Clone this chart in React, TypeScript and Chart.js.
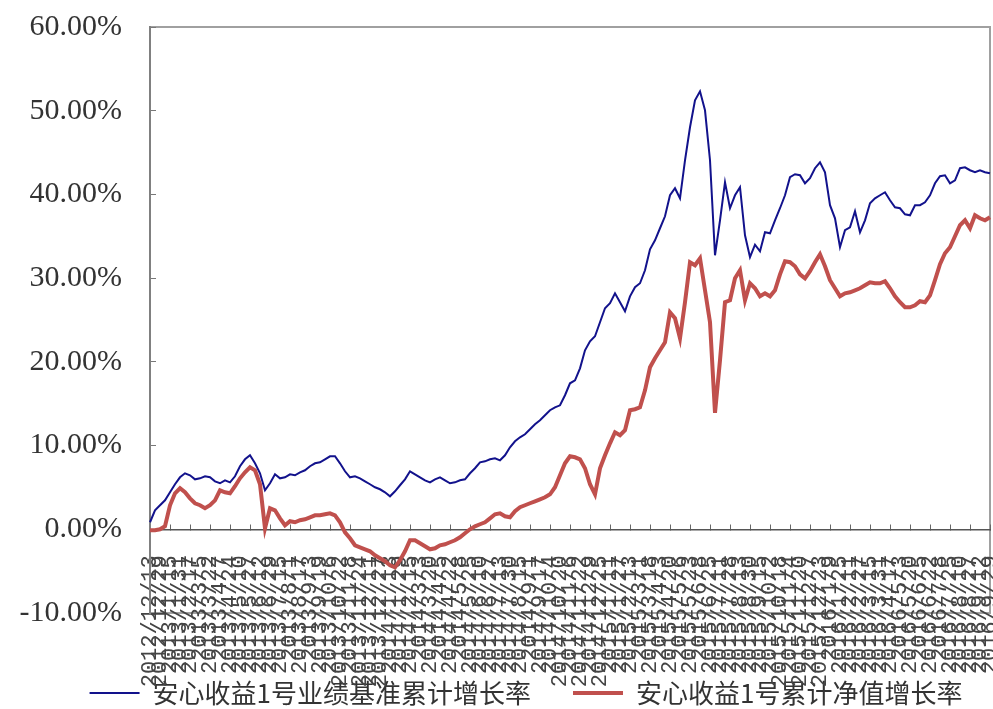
import React, { useEffect, useRef } from 'react';
import { Chart, registerables } from 'chart.js';

Chart.register(...registerables);

const labels: string[] = [
  '2012/12/13', '2012/12/21', '2012/12/29', '2013/1/6', '2013/1/15', '2013/1/23', '2013/1/31', '2013/2/8', '2013/2/17', '2013/2/25',
  '2013/3/5', '2013/3/13', '2013/3/22', '2013/3/30', '2013/4/7', '2013/4/15', '2013/4/24', '2013/5/2', '2013/5/10', '2013/5/18',
  '2013/5/27', '2013/6/4', '2013/6/12', '2013/6/20', '2013/6/29', '2013/7/7', '2013/7/15', '2013/7/23', '2013/8/1', '2013/8/9',
  '2013/8/17', '2013/8/25', '2013/9/3', '2013/9/11', '2013/9/19', '2013/9/27', '2013/10/6', '2013/10/14', '2013/10/22', '2013/10/30',
  '2013/11/8', '2013/11/16', '2013/11/24', '2013/12/2', '2013/12/11', '2013/12/19', '2013/12/27', '2014/1/4', '2014/1/13', '2014/1/21',
  '2014/1/29', '2014/2/6', '2014/2/15', '2014/2/23', '2014/3/3', '2014/3/11', '2014/3/20', '2014/3/28', '2014/4/5', '2014/4/13',
  '2014/4/22', '2014/4/30', '2014/5/8', '2014/5/16', '2014/5/25', '2014/6/2', '2014/6/10', '2014/6/18', '2014/6/27', '2014/7/5',
  '2014/7/13', '2014/7/21', '2014/7/30', '2014/8/7', '2014/8/15', '2014/8/23', '2014/9/1', '2014/9/9', '2014/9/17', '2014/9/25',
  '2014/10/4', '2014/10/12', '2014/10/20', '2014/10/28', '2014/11/6', '2014/11/14', '2014/11/22', '2014/11/30', '2014/12/9', '2014/12/17',
  '2014/12/25', '2015/1/2', '2015/1/11', '2015/1/19', '2015/1/27', '2015/2/4', '2015/2/13', '2015/2/21', '2015/3/1', '2015/3/9',
  '2015/3/18', '2015/3/26', '2015/4/3', '2015/4/11', '2015/4/20', '2015/4/28', '2015/5/6', '2015/5/14', '2015/5/23', '2015/5/31',
  '2015/6/8', '2015/6/16', '2015/6/25', '2015/7/3', '2015/7/11', '2015/7/19', '2015/7/28', '2015/8/5', '2015/8/13', '2015/8/21',
  '2015/8/30', '2015/9/7', '2015/9/15', '2015/9/23', '2015/10/2', '2015/10/10', '2015/10/18', '2015/10/26', '2015/11/4', '2015/11/12',
  '2015/11/20', '2015/11/28', '2015/12/7', '2015/12/15', '2015/12/23', '2015/12/31', '2016/1/9', '2016/1/17', '2016/1/25', '2016/2/2',
  '2016/2/11', '2016/2/19', '2016/2/27', '2016/3/6', '2016/3/15', '2016/3/23', '2016/3/31', '2016/4/8', '2016/4/17', '2016/4/25',
  '2016/5/3', '2016/5/11', '2016/5/20', '2016/5/28', '2016/6/5', '2016/6/13', '2016/6/22', '2016/6/30', '2016/7/8', '2016/7/16',
  '2016/7/25', '2016/8/2', '2016/8/10', '2016/8/18', '2016/8/27', '2016/9/4', '2016/9/12', '2016/9/20', '2016/9/29',
];

// 安心收益1号业绩基准累计增长率 (%)
const benchmark: number[] = [
  0.84, 2.27, 2.87, 3.46, 4.42, 5.38, 6.21, 6.69, 6.45, 5.97,
  6.09, 6.33, 6.21, 5.73, 5.50, 5.85, 5.61, 6.33, 7.53, 8.36,
  8.84, 7.88, 6.69, 4.66, 5.50, 6.57, 6.09, 6.21, 6.57, 6.45,
  6.81, 7.05, 7.53, 7.88, 8.00, 8.36, 8.72, 8.72, 7.88, 6.93,
  6.21, 6.33, 6.09, 5.73, 5.38, 5.02, 4.78, 4.42, 3.94, 4.54,
  5.26, 5.97, 6.93, 6.57, 6.21, 5.85, 5.61, 5.97, 6.21, 5.85,
  5.50, 5.61, 5.85, 5.97, 6.69, 7.29, 8.00, 8.12, 8.36, 8.48,
  8.24, 8.84, 9.80, 10.51, 10.99, 11.35, 11.95, 12.54, 13.02, 13.62,
  14.22, 14.57, 14.81, 16.01, 17.44, 17.80, 19.23, 21.38, 22.46, 23.06,
  24.73, 26.40, 27.00, 28.19, 27.12, 26.04, 27.83, 28.91, 29.39, 30.94,
  33.45, 34.52, 35.96, 37.39, 39.90, 40.74, 39.54, 44.08, 48.02, 51.25,
  52.32, 50.05, 44.08, 32.73, 36.91, 41.45, 38.35, 39.90, 40.86, 35.12,
  32.50, 34.00, 33.20, 35.48, 35.36, 36.91, 38.35, 39.90, 42.05, 42.41,
  42.29, 41.33, 41.93, 43.13, 43.84, 42.65, 38.71, 37.15, 33.70, 35.72,
  36.08, 37.99, 35.48, 36.91, 38.94, 39.54, 39.90, 40.26, 39.30, 38.47,
  38.35, 37.63, 37.51, 38.71, 38.71, 39.06, 39.90, 41.33, 42.17, 42.29,
  41.33, 41.69, 43.13, 43.24, 42.89, 42.65, 42.89, 42.65, 42.53,
];

// 安心收益1号累计净值增长率 (%)
const nav: number[] = [
  -0.12, -0.12, 0.00, 0.36, 2.87, 4.30, 4.90, 4.42, 3.70, 3.11,
  2.87, 2.51, 2.87, 3.46, 4.66, 4.42, 4.30, 5.14, 6.09, 6.81,
  7.41, 7.05, 5.38, 0.12, 2.51, 2.27, 1.31, 0.48, 0.96, 0.84,
  1.08, 1.19, 1.43, 1.67, 1.67, 1.79, 1.91, 1.67, 0.84, -0.36,
  -1.08, -1.91, -2.15, -2.39, -2.63, -3.11, -3.46, -3.82, -4.30, -4.54,
  -3.70, -2.63, -1.31, -1.31, -1.67, -2.03, -2.39, -2.27, -1.91, -1.79,
  -1.55, -1.31, -0.96, -0.48, 0.00, 0.36, 0.60, 0.84, 1.31, 1.79,
  1.91, 1.55, 1.43, 2.15, 2.63, 2.87, 3.11, 3.34, 3.58, 3.82,
  4.18, 5.02, 6.45, 7.88, 8.72, 8.60, 8.36, 7.29, 5.38, 4.18,
  7.29, 8.84, 10.27, 11.59, 11.23, 11.83, 14.22, 14.34, 14.57, 16.60,
  19.35, 20.43, 21.38, 22.34, 25.92, 25.21, 22.82, 27.12, 31.90, 31.54,
  32.37, 28.55, 24.73, 13.90, 20.19, 27.12, 27.36, 29.98, 30.94, 27.36,
  29.39, 28.79, 27.83, 28.19, 27.83, 28.55, 30.46, 32.02, 31.90, 31.42,
  30.46, 29.98, 30.82, 31.90, 32.85, 31.42, 29.75, 28.79, 27.83, 28.19,
  28.31, 28.55, 28.79, 29.15, 29.51, 29.39, 29.39, 29.63, 28.79, 27.83,
  27.12, 26.52, 26.52, 26.76, 27.24, 27.12, 27.95, 29.75, 31.66, 32.97,
  33.69, 35.00, 36.32, 36.91, 35.96, 37.51, 37.15, 36.91, 37.27,
];

const seriesNames = ['安心收益1号业绩基准累计增长率', '安心收益1号累计净值增长率'];

const framePlugin = {
  id: 'plotFrame',
  beforeDraw(chart: any) {
    const { ctx, chartArea } = chart;
    if (!chartArea) return;
    const { left, top, right, bottom } = chartArea;
    ctx.save();
    ctx.strokeStyle = '#a0a0a0';
    ctx.lineWidth = 2;
    ctx.strokeRect(left, top, right - left, bottom - top);
    ctx.restore();
  },
};

// shift the legend box to where it sits in the reference
const legendNudge = {
  id: 'legendNudge',
  afterLayout(chart: any) {
    const lg = chart.legend;
    if (!lg) return;
    lg.left += 31;
    lg.right += 31;
    lg.top += 25;
    lg.bottom += 25;
  },
};

export default function App() {
  const ref = useRef<HTMLCanvasElement>(null);

  useEffect(() => {
    if (!ref.current) return;
    const chart = new Chart(ref.current, {
      type: 'line',
      data: {
        labels,
        datasets: [
          {
            label: seriesNames[0],
            data: benchmark,
            borderColor: '#12128c',
            backgroundColor: '#12128c',
            borderWidth: 2,
            pointRadius: 0,
            tension: 0,
            order: 1,
          },
          {
            label: seriesNames[1],
            data: nav,
            borderColor: '#c0504d',
            backgroundColor: '#c0504d',
            borderWidth: 4,
            pointRadius: 0,
            tension: 0,
            order: 0,
          },
        ],
      },
      options: {
        animation: false,
        responsive: true,
        maintainAspectRatio: false,
        layout: { padding: { left: 0, right: 3, top: 27, bottom: 18 } },
        plugins: {
          tooltip: { enabled: false },
          legend: {
            position: 'bottom',
            labels: {
              usePointStyle: true,
              pointStyle: 'line',
              pointStyleWidth: 50,
              padding: 42,
              color: '#333',
              font: { family: '"Noto Sans CJK SC", sans-serif', size: 26 },
              sort: (a: any, b: any) => a.datasetIndex - b.datasetIndex,
            },
          },
        },
        scales: {
          x: {
            type: 'category',
            position: { y: 0 } as any,
            grid: {
              drawOnChartArea: false,
              drawTicks: true,
              tickLength: -6,
              tickColor: (c: any) => (c.index % 4 === 0 ? '#666' : 'rgba(0,0,0,0)'),
              lineWidth: 1,
            },
            border: { display: true, color: '#555', width: 1.5 },
            ticks: {
              autoSkip: false,
              maxRotation: 90,
              minRotation: 90,
              padding: 32,
              color: '#444',
              font: { family: '"Liberation Mono", monospace', size: 22 },
              callback: (_v: any, i: number) => (i % 2 === 0 ? labels[i] : ''),
            },
            afterFit: (s: any) => {
              s.paddingLeft = 0;
              s.paddingRight = 0;
            },
          },
          y: {
            min: -10,
            max: 60,
            ticks: {
              stepSize: 10,
              padding: 34,
              color: '#333',
              font: { family: '"Liberation Serif", serif', size: 30 },
              callback: (v: any) => Number(v).toFixed(2) + '%',
            },
            grid: { drawOnChartArea: false, drawTicks: true, tickLength: -6, tickColor: '#777' },
            border: { display: true, color: '#808080', width: 2 },
            afterFit: (s: any) => {
              s.width = 150;
              s.paddingTop = 0;
              s.paddingBottom = 0;
            },
          },
        },
      } as any,
      plugins: [framePlugin, legendNudge],
    });
    return () => chart.destroy();
  }, []);

  return (
    <div style={{ position: 'fixed', left: 0, top: 0, width: 993, height: 709, background: '#fff' }}>
      <canvas ref={ref} />
    </div>
  );
}
